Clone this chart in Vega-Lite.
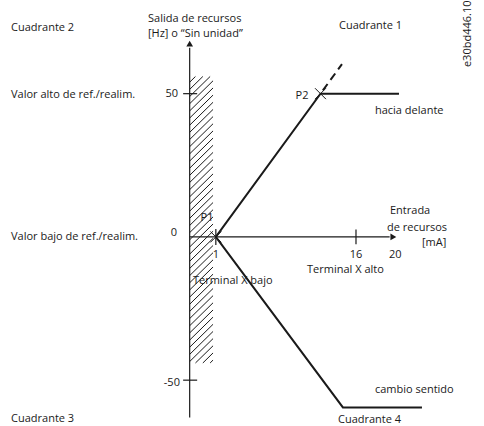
{
  "$schema": "https://vega.github.io/schema/vega-lite/v6.json",
  "width": 484,
  "height": 426,
  "autosize": {"type": "fit", "contains": "padding"},
  "padding": 0,
  "background": "white",
  "config": {"view": {"stroke": null}, "text": {"font": "Open Sans", "fontSize": 11, "color": "#1a1a1a", "baseline": "middle"}},
  "datasets": {
    "hatch": [
      {"x": 0.39, "y": -44, "x2": 0.7, "y2": -43},
      {"x": -0.39, "y": -44, "x2": 0.7, "y2": -40.5},
      {"x": -1.18, "y": -44, "x2": 0.7, "y2": -38},
      {"x": -1.8, "y": -43.5, "x2": 0.7, "y2": -35.5},
      {"x": -1.8, "y": -41, "x2": 0.7, "y2": -33},
      {"x": -1.8, "y": -38.5, "x2": 0.7, "y2": -30.5},
      {"x": -1.8, "y": -36, "x2": 0.7, "y2": -28},
      {"x": -1.8, "y": -33.5, "x2": 0.7, "y2": -25.5},
      {"x": -1.8, "y": -31, "x2": 0.7, "y2": -23},
      {"x": -1.8, "y": -28.5, "x2": 0.7, "y2": -20.5},
      {"x": -1.8, "y": -26, "x2": 0.7, "y2": -18},
      {"x": -1.8, "y": -23.5, "x2": 0.7, "y2": -15.5},
      {"x": -1.8, "y": -21, "x2": 0.7, "y2": -13},
      {"x": -1.8, "y": -18.5, "x2": 0.7, "y2": -10.5},
      {"x": -1.8, "y": -16, "x2": 0.7, "y2": -8},
      {"x": -1.8, "y": -13.5, "x2": 0.7, "y2": -5.5},
      {"x": -1.8, "y": -11, "x2": 0.7, "y2": -3},
      {"x": -1.8, "y": -8.5, "x2": 0.7, "y2": -0.5},
      {"x": -1.8, "y": -6, "x2": 0.7, "y2": 2},
      {"x": -1.8, "y": -3.5, "x2": 0.7, "y2": 4.5},
      {"x": -1.8, "y": -1, "x2": 0.7, "y2": 7},
      {"x": -1.8, "y": 1.5, "x2": 0.7, "y2": 9.5},
      {"x": -1.8, "y": 4, "x2": 0.7, "y2": 12},
      {"x": -1.8, "y": 6.5, "x2": 0.7, "y2": 14.5},
      {"x": -1.8, "y": 9, "x2": 0.7, "y2": 17},
      {"x": -1.8, "y": 11.5, "x2": 0.7, "y2": 19.5},
      {"x": -1.8, "y": 14, "x2": 0.7, "y2": 22},
      {"x": -1.8, "y": 16.5, "x2": 0.7, "y2": 24.5},
      {"x": -1.8, "y": 19, "x2": 0.7, "y2": 27},
      {"x": -1.8, "y": 21.5, "x2": 0.7, "y2": 29.5},
      {"x": -1.8, "y": 24, "x2": 0.7, "y2": 32},
      {"x": -1.8, "y": 26.5, "x2": 0.7, "y2": 34.5},
      {"x": -1.8, "y": 29, "x2": 0.7, "y2": 37},
      {"x": -1.8, "y": 31.5, "x2": 0.7, "y2": 39.5},
      {"x": -1.8, "y": 34, "x2": 0.7, "y2": 42},
      {"x": -1.8, "y": 36.5, "x2": 0.7, "y2": 44.5},
      {"x": -1.8, "y": 39, "x2": 0.7, "y2": 47},
      {"x": -1.8, "y": 41.5, "x2": 0.7, "y2": 49.5},
      {"x": -1.8, "y": 44, "x2": 0.7, "y2": 52},
      {"x": -1.8, "y": 46.5, "x2": 0.7, "y2": 54.5},
      {"x": -1.8, "y": 49, "x2": 0.39, "y2": 56},
      {"x": -1.8, "y": 51.5, "x2": -0.39, "y2": 56},
      {"x": -1.8, "y": 54, "x2": -1.18, "y2": 56}
    ],
    "axes": [
      {"x": -1.8, "y": -63, "x2": -1.8, "y2": 66},
      {"x": -1.8, "y": 0, "x2": 19.6, "y2": 0},
      {"x": 1, "y": 2.8, "x2": 1, "y2": -2.8},
      {"x": 16, "y": 2.6, "x2": 16, "y2": -2.6},
      {"x": -2.5, "y": 50, "x2": -1.0, "y2": 50},
      {"x": -2.5, "y": -50, "x2": -1.0, "y2": -50}
    ],
    "curve": [
      {"branch": "up", "order": 1, "x": 1, "y": 0},
      {"branch": "up", "order": 2, "x": 12.2, "y": 50},
      {"branch": "up", "order": 3, "x": 20.6, "y": 50},
      {"branch": "down", "order": 1, "x": 1, "y": 0},
      {"branch": "down", "order": 2, "x": 14.6, "y": -59.5},
      {"branch": "down", "order": 3, "x": 23.06, "y": -59.5}
    ],
    "extension": [{"x": 12.2, "y": 50, "x2": 14.5, "y2": 60.3}],
    "points": [{"x": 1, "y": 0, "label": "P1"}, {"x": 12.2, "y": 50, "label": "P2"}],
    "arrowUp": [{"x": -1.8, "y": 67.5}],
    "arrowRight": [{"x": 20.0, "y": 0}],
    "leftText": [
      {"x": -20.92, "y": 73.0, "text": "Cuadrante 2"},
      {"x": -20.92, "y": 49.7, "text": "Valor alto de ref./realim."},
      {"x": -20.92, "y": 0, "text": "Valor bajo de ref./realim."},
      {"x": -20.92, "y": -63.4, "text": "Cuadrante 3"},
      {"x": -6.26, "y": 76.1, "text": "Salida de recursos"},
      {"x": -6.26, "y": 70.9, "text": "[Hz] o “Sin unidad”"},
      {"x": 14.18, "y": 73.7, "text": "Cuadrante 1"},
      {"x": 14.07, "y": -63.9, "text": "Cuadrante 4"},
      {"x": 19.64, "y": 9.0, "text": "Entrada"},
      {"x": 19.32, "y": 3.1, "text": "de recursos"},
      {"x": 23.06, "y": -2.1, "text": "[mA]"},
      {"x": 18.03, "y": 43.8, "text": "hacia delante"},
      {"x": 18.03, "y": -53.5, "text": "cambio sentido"},
      {"x": -1.45, "y": -15.3, "text": "Terminal X bajo"},
      {"x": 10.76, "y": -11.5, "text": "Terminal X alto"}
    ],
    "rightText": [
      {"x": -3.05, "y": 50, "text": "50"},
      {"x": -3.16, "y": 1.4, "text": "0"},
      {"x": -2.84, "y": -51, "text": "-50"}
    ],
    "centerText": [
      {"x": 1, "y": -6.3, "text": "1"},
      {"x": 16, "y": -6.3, "text": "16"},
      {"x": 20.2, "y": -6.3, "text": "20"},
      {"x": 0.05, "y": 6.6, "text": "P1"},
      {"x": 10.22, "y": 49.3, "text": "P2"}
    ],
    "code": [{"x": 28.0, "y": 70.9, "text": "e30bd446.10"}]
  },
  "encoding": {
    "x": {"field": "x", "type": "quantitative", "axis": null, "scale": {"domain": [-22.1, 29.7], "nice": false, "zero": false}},
    "y": {"field": "y", "type": "quantitative", "axis": null, "scale": {"domain": [-66, 82], "nice": false, "zero": false}}
  },
  "layer": [
    {
      "data": {"name": "hatch"},
      "mark": {"type": "rule", "color": "#1a1a1a", "strokeWidth": 1},
      "encoding": {"x2": {"field": "x2"}, "y2": {"field": "y2"}}
    },
    {
      "data": {"name": "axes"},
      "mark": {"type": "rule", "color": "#1a1a1a", "strokeWidth": 1.2},
      "encoding": {"x2": {"field": "x2"}, "y2": {"field": "y2"}}
    },
    {
      "data": {"name": "arrowUp"},
      "mark": {"type": "point", "shape": "triangle-up", "filled": true, "color": "#1a1a1a", "size": 45, "opacity": 1}
    },
    {
      "data": {"name": "arrowRight"},
      "mark": {"type": "point", "shape": "triangle-right", "filled": true, "color": "#1a1a1a", "size": 45, "opacity": 1}
    },
    {
      "data": {"name": "curve"},
      "mark": {"type": "line", "color": "#1a1a1a", "strokeWidth": 2, "strokeJoin": "miter"},
      "encoding": {"detail": {"field": "branch"}, "order": {"field": "order", "type": "quantitative"}}
    },
    {
      "data": {"name": "extension"},
      "mark": {"type": "rule", "color": "#1a1a1a", "strokeWidth": 2, "strokeDash": [8, 5], "strokeDashOffset": -4},
      "encoding": {"x2": {"field": "x2"}, "y2": {"field": "y2"}}
    },
    {
      "data": {"name": "points"},
      "mark": {"type": "point", "shape": "M-1,-1L1,1M1,-1L-1,1", "filled": false, "color": "#1a1a1a", "strokeWidth": 1, "size": 120, "opacity": 1}
    },
    {
      "data": {"name": "leftText"},
      "mark": {"type": "text", "align": "left"},
      "encoding": {"text": {"field": "text"}}
    },
    {
      "data": {"name": "rightText"},
      "mark": {"type": "text", "align": "right"},
      "encoding": {"text": {"field": "text"}}
    },
    {
      "data": {"name": "centerText"},
      "mark": {"type": "text", "align": "center"},
      "encoding": {"text": {"field": "text"}}
    },
    {
      "data": {"name": "code"},
      "mark": {"type": "text", "align": "center", "angle": 270},
      "encoding": {"text": {"field": "text"}}
    }
  ]
}
